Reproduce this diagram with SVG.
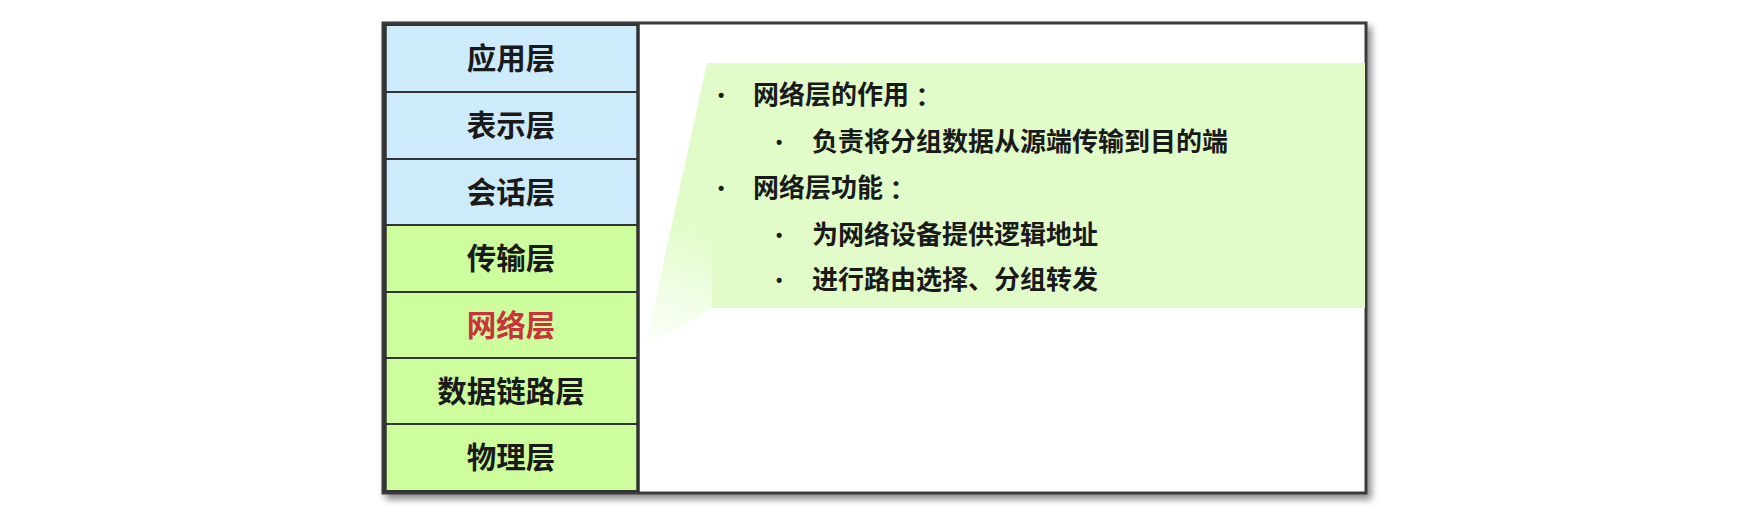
<svg xmlns="http://www.w3.org/2000/svg" width="1751" height="532" viewBox="0 0 1751 532">
<defs>
<filter id="sh" x="-5%" y="-5%" width="110%" height="115%">
<feDropShadow dx="4" dy="5" stdDeviation="3.5" flood-color="#000" flood-opacity="0.45"/>
</filter>
<linearGradient id="fade" gradientUnits="userSpaceOnUse" x1="712" y1="170" x2="640" y2="350">
<stop offset="0" stop-color="#e1fcc9"/>
<stop offset="0.3" stop-color="#e1fcc9"/>
<stop offset="1" stop-color="#ffffff"/>
</linearGradient>
<style>
.blue{fill:#ceebfc;stroke:#333;stroke-width:2}
.green{fill:#cdfd9c;stroke:#333;stroke-width:2}
.lbl{font-family:"Liberation Sans","Noto Sans CJK SC",sans-serif;font-size:29.5px;font-weight:bold;fill:#1a1a1a;text-anchor:middle;dominant-baseline:central}
.red{fill:#c8343c}
.t{font-family:"Liberation Sans","Noto Sans CJK SC",sans-serif;font-size:26px;font-weight:bold;fill:#1a1a1a;dominant-baseline:central}
.c{font-family:"Noto Sans CJK TC",sans-serif}
.b{font-family:"Liberation Sans","Noto Sans CJK SC",sans-serif;font-size:18px;font-weight:bold;fill:#1a1a1a;dominant-baseline:central}
</style>
</defs>
<g id="frame">
<rect x="383" y="23" width="983" height="470" fill="#ffffff" stroke="#3a3a3a" stroke-width="3" filter="url(#sh)"/>
</g>
<g id="callout">
<polygon points="707,63 1365,63 1365,308 712,308 645,348" fill="url(#fade)"/>
<rect x="712" y="63" width="653" height="245" fill="#e1fcc9"/>
<text class="b" x="718" y="95">•</text>
<text class="t" x="753" y="95">网络层的作用<tspan class="c">：</tspan></text>
<text class="b" x="776" y="142">•</text>
<text class="t" x="812" y="142">负责将分组数据从源端传输到目的端</text>
<text class="b" x="718" y="188">•</text>
<text class="t" x="753" y="188">网络层功能<tspan class="c">：</tspan></text>
<text class="b" x="776" y="235">•</text>
<text class="t" x="812" y="235">为网络设备提供逻辑地址</text>
<text class="b" x="776" y="280">•</text>
<text class="t" x="812" y="280">进行路由选择、分组转发</text>
</g>
<g id="layer-app"><rect class="blue" x="385" y="25" width="253" height="67"/><text class="lbl" x="511" y="58">应用层</text></g>
<g id="layer-pres"><rect class="blue" x="385" y="92" width="253" height="67"/><text class="lbl" x="511" y="125">表示层</text></g>
<g id="layer-sess"><rect class="blue" x="385" y="159" width="253" height="66"/><text class="lbl" x="511" y="192">会话层</text></g>
<g id="layer-trans"><rect class="green" x="385" y="225" width="253" height="67"/><text class="lbl" x="511" y="258">传输层</text></g>
<g id="layer-net"><rect class="green" x="385" y="292" width="253" height="66"/><text class="lbl red" x="511" y="325">网络层</text></g>
<g id="layer-link"><rect class="green" x="385" y="358" width="253" height="66"/><text class="lbl" x="511" y="391">数据链路层</text></g>
<g id="layer-phys"><rect class="green" x="385" y="424" width="253" height="67"/><text class="lbl" x="511" y="457">物理层</text></g>
<g id="connectors">
<line x1="638" y1="24" x2="638" y2="492" stroke="#333" stroke-width="3.5"/>
<line x1="385" y1="24" x2="385" y2="492" stroke="#333" stroke-width="3.5"/>
</g>
</svg>
